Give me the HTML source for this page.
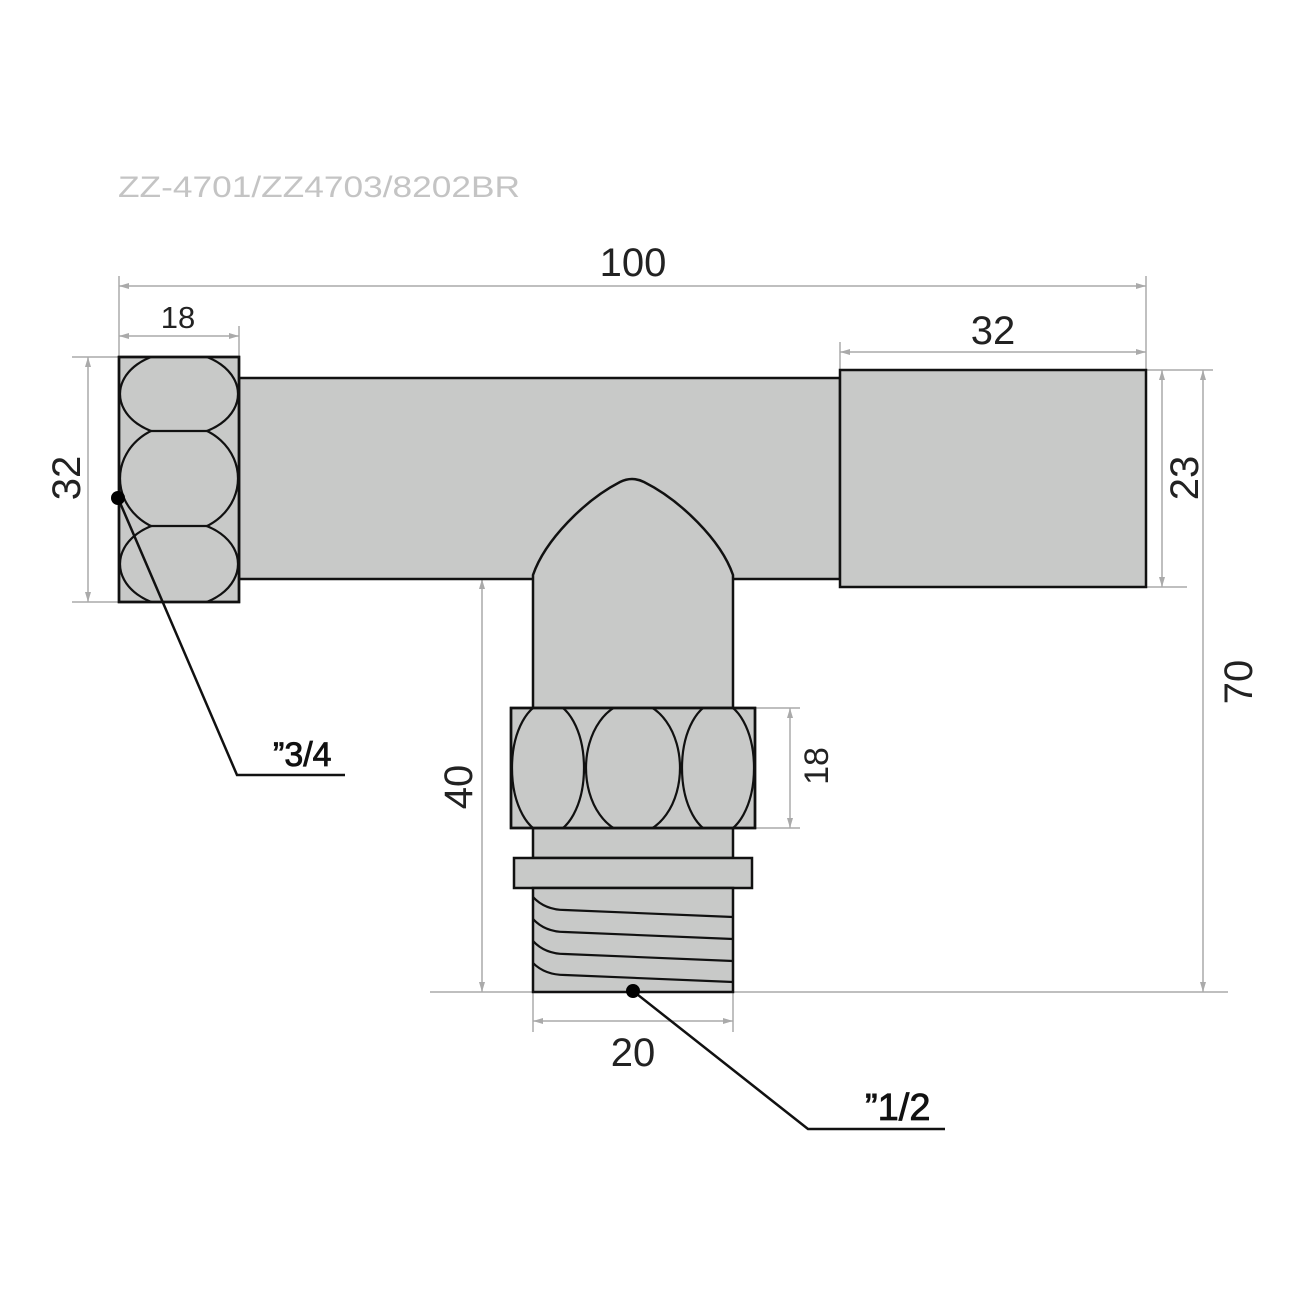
<!DOCTYPE html>
<html><head><style>body{margin:0;background:#fff}svg{display:block}</style></head><body>
<svg width="1300" height="1300" viewBox="0 0 1300 1300" xmlns="http://www.w3.org/2000/svg" font-family="Liberation Sans, sans-serif">
<defs>
<clipPath id="a"><rect x="119" y="357" width="120" height="74"/></clipPath>
<clipPath id="b"><rect x="119" y="431" width="120" height="95"/></clipPath>
<clipPath id="c"><rect x="119" y="526" width="120" height="76"/></clipPath>
<clipPath id="d"><rect x="511" y="708" width="74" height="120"/></clipPath>
<clipPath id="e"><rect x="585" y="708" width="96" height="120"/></clipPath>
<clipPath id="f"><rect x="681" y="708" width="74" height="120"/></clipPath>
</defs>
<rect width="1300" height="1300" fill="#fff"/>
<text x="118" y="197" font-size="30" fill="#c4c4c4" textLength="402" lengthAdjust="spacingAndGlyphs">ZZ-4701/ZZ4703/8202BR</text>
<g stroke="#aaa" stroke-width="1.5" fill="none">
<line x1="119" y1="286" x2="1146" y2="286"/><line x1="119" y1="276" x2="119" y2="357"/><line x1="1146" y1="276" x2="1146" y2="370"/>
<line x1="119" y1="336" x2="239" y2="336"/><line x1="239" y1="326" x2="239" y2="357"/>
<line x1="840" y1="352" x2="1146" y2="352"/><line x1="840" y1="342" x2="840" y2="370"/>
<line x1="88" y1="357" x2="88" y2="602"/><line x1="72" y1="357" x2="119" y2="357"/><line x1="72" y1="602" x2="119" y2="602"/>
<line x1="1162" y1="370" x2="1162" y2="587"/><line x1="1146" y1="370" x2="1213" y2="370"/><line x1="1146" y1="587" x2="1187" y2="587"/>
<line x1="1203" y1="370" x2="1203" y2="992"/><line x1="430" y1="992" x2="1228" y2="992"/>
<line x1="482" y1="579" x2="482" y2="992"/><line x1="472" y1="579" x2="533" y2="579"/>
<line x1="790" y1="708" x2="790" y2="828"/><line x1="755" y1="708" x2="800" y2="708"/><line x1="755" y1="828" x2="800" y2="828"/>
<line x1="533" y1="1021" x2="733" y2="1021"/><line x1="533" y1="992" x2="533" y2="1032"/><line x1="733" y1="992" x2="733" y2="1032"/>
</g>
<g fill="#aaa">
<path d="M119 286l10-3v6z M1146 286l-10-3v6z M119 336l10-3v6z M239 336l-10-3v6z M840 352l10-3v6z M1146 352l-10-3v6z
M88 357l-3 10h6z M88 602l-3-10h6z M1162 370l-3 10h6z M1162 587l-3-10h6z M1203 370l-3 10h6z M1203 992l-3-10h6z
M482 579l-3 10h6z M482 992l-3-10h6z M790 708l-3 10h6z M790 828l-3-10h6z M533 1021l10-3v6z M733 1021l-10-3v6z"/>
</g>
<g font-size="40" fill="#222" text-anchor="middle">
<text x="633" y="276">100</text>
<text x="178" y="328" font-size="31">18</text>
<text x="993" y="344">32</text>
<text x="633" y="1066">20</text>
<text transform="translate(80,478) rotate(-90)">32</text>
<text transform="translate(1198,478) rotate(-90)">23</text>
<text transform="translate(1252,682) rotate(-90)">70</text>
<text transform="translate(472,787) rotate(-90)">40</text>
<text transform="translate(828,766) rotate(-90)" font-size="34">18</text>
</g>
<g fill="#c8c9c8" stroke="#111" stroke-width="2.5">
<rect x="239" y="378" width="601" height="201"/>
<rect x="840" y="370" width="306" height="217"/>
<path d="M533 708V575C545 540 585 500 620 482Q632 476 644 482C680 500 721 540 733 575V708Z"/>
<rect x="119" y="357" width="120" height="245"/>
<rect x="533" y="828" width="200" height="30"/>
<rect x="514" y="858" width="238" height="30"/>
<rect x="533" y="888" width="200" height="104"/>
<rect x="511" y="708" width="244" height="120"/>
</g>
<g fill="none" stroke="#111" stroke-width="2.2">
<ellipse cx="179" cy="394" rx="59" ry="42" clip-path="url(#a)"/>
<ellipse cx="179" cy="478.5" rx="59" ry="54" clip-path="url(#b)"/>
<ellipse cx="179" cy="564" rx="59" ry="43" clip-path="url(#c)"/>
<line x1="150" y1="431" x2="208" y2="431"/>
<line x1="150" y1="526" x2="208" y2="526"/>
<ellipse cx="548" cy="768" rx="36" ry="66" clip-path="url(#d)"/>
<ellipse cx="633" cy="768" rx="47" ry="66" clip-path="url(#e)"/>
<ellipse cx="718" cy="768" rx="36" ry="66" clip-path="url(#f)"/>
<path d="M533 897Q545 910 565 910L733 917"/>
<path d="M533 919Q545 932 565 932L733 939"/>
<path d="M533 941Q545 954 565 954L733 961"/>
<path d="M533 963Q545 975 565 975L733 982"/>
</g>
<g fill="none" stroke="#111" stroke-width="2.5">
<rect x="119" y="357" width="120" height="245"/>
<rect x="511" y="708" width="244" height="120"/>
<polyline points="118,498 237,775 345,775"/>
<polyline points="633,991 808,1129 945,1129"/>
</g>
<circle cx="118" cy="498" r="7" fill="#000"/>
<circle cx="633" cy="991" r="7" fill="#000"/>
<text x="273" y="766" font-size="34" fill="#111" stroke="#111" stroke-width="0.8">”3/4</text>
<text x="865" y="1120" font-size="38" fill="#111" stroke="#111" stroke-width="0.8">”1/2</text>
</svg>
</body></html>
